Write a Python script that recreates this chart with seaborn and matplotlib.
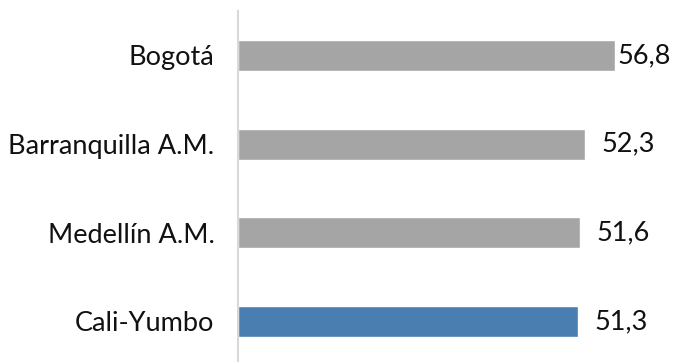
import pandas as pd
import matplotlib
matplotlib.use('agg')
import matplotlib.pyplot as plt
import seaborn as sns

ciudades = ['Bogotá', 'Barranquilla A.M.', 'Medellín A.M.', 'Cali-Yumbo']
valores = [56.8, 52.3, 51.6, 51.3]
etiquetas = ['56,8', '52,3', '51,6', '51,3']
colores = ['#A5A5A5', '#A5A5A5', '#A5A5A5', '#4A7EB0']

sns.set_theme(style="white")
plt.rcParams['font.family'] = ['Lato', 'DejaVu Sans']

df = pd.DataFrame({'ciudad': ciudades, 'valor': valores})

fig = plt.figure(figsize=(6.75, 3.62), dpi=100)
ax = fig.add_axes([238 / 675, 0, (615 - 238) / 675, 351 / 362])

sns.barplot(data=df, x='valor', y='ciudad', hue='ciudad', palette=colores,
            legend=False, width=0.35, saturation=1, ax=ax)

for i, (v, t) in enumerate(zip(valores, etiquetas)):
    desplaz = 2 if v == max(valores) else 16
    ax.annotate(t, xy=(v, i), xytext=(desplaz * 0.72, 0), textcoords='offset points',
                va='center', ha='left', fontsize=19.5, color='#111111',
                annotation_clip=False)

ax.set_xlim(0, 56.8)
ax.set_ylim(3.457, -0.5)
ax.set_xlabel('')
ax.set_ylabel('')
ax.set_xticks([])
ax.tick_params(axis='y', length=0, pad=17, labelsize=19.5, labelcolor='#111111')

for lado in ['top', 'right', 'bottom']:
    ax.spines[lado].set_visible(False)
ax.spines['left'].set_color('#D9D9D9')
ax.spines['left'].set_linewidth(1.5)

fig.savefig('out.png', dpi=100)
